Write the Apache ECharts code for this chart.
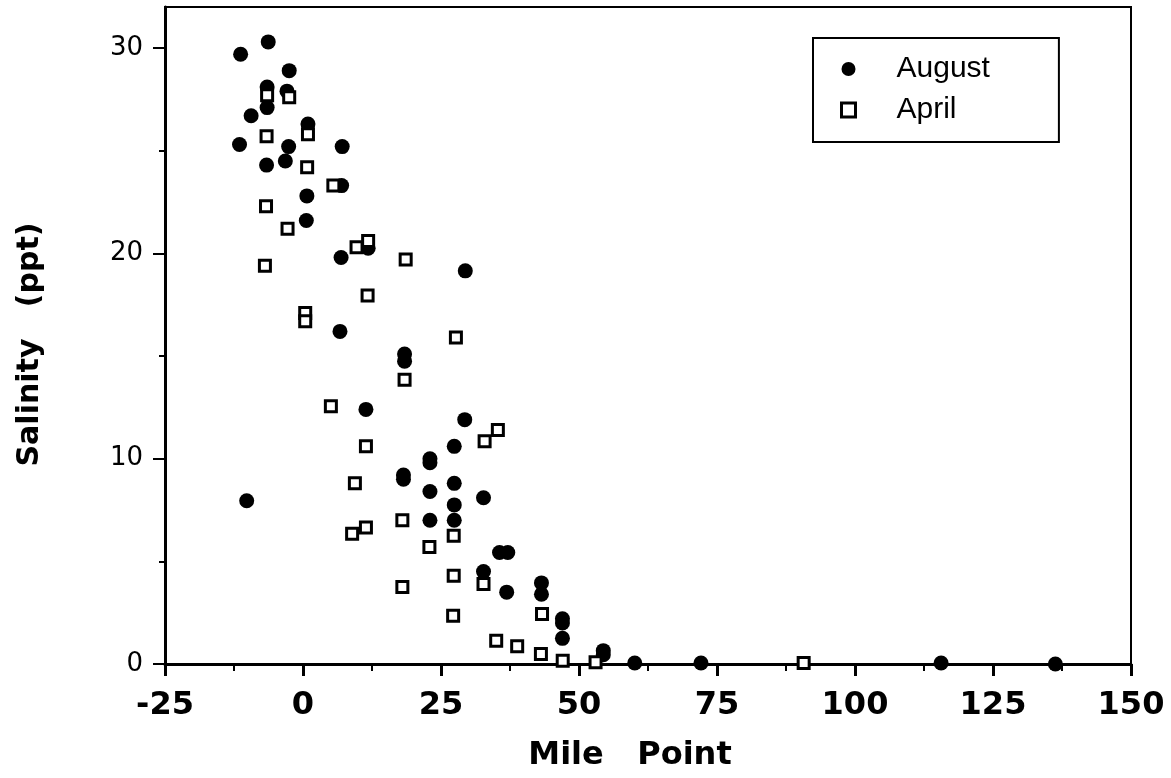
<!DOCTYPE html>
<html>
<head>
<meta charset="utf-8">
<script src="https://cdn.jsdelivr.net/npm/echarts@6/dist/echarts.min.js"></script>
<style>
html,body{margin:0;padding:0;background:#fff;}
#chart{width:1171px;height:778px;}
</style>
</head>
<body>
<div id="chart"></div>
<script>
// Mile point / salinity (ppt) readings
const augustMile = [-11.3,-6.3,-2.5,-6.5,-2.9,-6.5,-9.4,0.9,-11.5,-2.6,7.1,-3.2,-6.6,7.0,0.7,0.6,11.8,6.9,29.4,6.7,18.4,18.4,11.4,29.3,27.4,23.0,23.0,18.2,18.2,27.4,23.0,-10.2,32.7,27.4,23.0,27.4,35.6,37.1,32.7,36.9,43.2,43.2,47.0,47.0,47.0,54.4,54.4,60.1,72.1,115.6,136.3];
const augustSal  = [29.7,30.3,28.9,28.1,27.9,27.1,26.7,26.3,25.3,25.2,25.2,24.5,24.3,23.3,22.8,21.6,20.25,19.8,19.15,16.2,15.1,14.75,12.4,11.9,10.6,10.0,9.8,9.2,9.0,8.8,8.4,7.95,8.1,7.75,7.0,7.0,5.43,5.43,4.5,3.5,3.95,3.4,2.2,2.0,1.25,0.65,0.45,0.05,0.05,0.05,0.0];
const aprilMile = [-6.5,-2.5,0.9,-6.6,0.75,5.5,-6.7,-2.8,9.7,11.8,18.6,-6.9,11.7,0.4,0.4,27.7,18.4,5.05,11.4,35.3,32.9,9.4,18.0,11.4,8.9,27.3,22.9,27.3,32.7,18.0,43.3,27.2,35.0,38.8,43.1,47.05,53.0,90.7];
const aprilSal  = [27.7,27.6,25.8,25.7,24.2,23.3,22.3,21.2,20.3,20.6,19.7,19.4,17.95,17.1,16.7,15.9,13.85,12.55,10.6,11.4,10.85,8.8,7.0,6.65,6.35,6.25,5.7,4.3,3.9,3.75,2.43,2.35,1.13,0.86,0.49,0.16,0.08,0.05];
const seriesNames = ['August','April'];
const xTicks = {min:-25, max:150, step:25};
const yMajorTicks = [0,10,20,30];
const yMinorTicks = [5,15,25];

const pairs = (xs, ys) => xs.map((x,i)=>[x, ys[i]]);

const chart = echarts.init(document.getElementById('chart'), null, {renderer:'canvas'});
const option = {
  animation:false,
  backgroundColor:'#fff',
  grid:{left:165, right:40, top:7, bottom:114, show:true, borderColor:'#000', borderWidth:2, backgroundColor:'transparent'},
  legend:{
    orient:'vertical', left:813, top:38,
    data:[{name:seriesNames[0]},{name:seriesNames[1], itemStyle:{borderWidth:3}}],
    itemWidth:14, itemHeight:14, itemGap:11,
    padding:[16,69,17,27],
    borderColor:'#000', borderWidth:2, backgroundColor:'#fff',
    formatter: n => '{t|' + n + '}',
    textStyle:{rich:{t:{fontSize:30, fontFamily:'Liberation Sans, Arial, sans-serif', color:'#000', padding:[0,0,0,36], lineHeight:32}}}
  },
  xAxis:{
    type:'value', min:xTicks.min, max:xTicks.max, interval:xTicks.step,
    name:'Mile   Point', nameLocation:'middle', nameGap:76,
    nameTextStyle:{fontSize:32, fontWeight:'bold', fontFamily:'DejaVu Sans, sans-serif', color:'#000', padding:[0,36,0,0]},
    axisLine:{show:true, onZero:false, lineStyle:{color:'#000', width:3}},
    axisTick:{show:true, length:12, lineStyle:{color:'#000', width:3}},
    minorTick:{show:true, splitNumber:2, length:7, lineStyle:{color:'#000', width:2}},
    axisLabel:{fontSize:32, fontWeight:'bold', fontFamily:'DejaVu Sans, sans-serif', color:'#000', margin:26},
    splitLine:{show:false}, minorSplitLine:{show:false}
  },
  yAxis:[{
    type:'value', min:0, max:32, position:'left',
    name:'Salinity   (ppt)', nameLocation:'middle', nameGap:120,
    nameTextStyle:{fontSize:30, fontWeight:'bold', fontFamily:'DejaVu Sans, sans-serif', color:'#000', padding:[0,18,0,0]},
    axisLine:{show:true, onZero:false, lineStyle:{color:'#000', width:3}},
    axisTick:{show:true, length:12, customValues:yMajorTicks, lineStyle:{color:'#000', width:2}},
    axisLabel:{customValues:yMajorTicks, fontSize:26, fontFamily:'DejaVu Sans, sans-serif', color:'#000', margin:22},
    splitLine:{show:false}
  },{
    type:'value', min:0, max:32, position:'left',
    axisLine:{show:false, onZero:false},
    axisTick:{show:true, length:6, customValues:yMinorTicks, lineStyle:{color:'#000', width:2}},
    axisLabel:{show:false},
    splitLine:{show:false}
  }],
  series:[{
    name:seriesNames[0], type:'scatter', yAxisIndex:0,
    data:pairs(augustMile, augustSal),
    symbol:'circle', symbolSize:15,
    itemStyle:{color:'#000', opacity:1}
  },{
    name:seriesNames[1], type:'scatter', yAxisIndex:0,
    data:pairs(aprilMile, aprilSal),
    symbol:'rect', symbolSize:11,
    itemStyle:{color:'#fff', borderColor:'#000', borderWidth:3, opacity:1}
  }]
};
chart.setOption(option);
</script>
</body>
</html>
